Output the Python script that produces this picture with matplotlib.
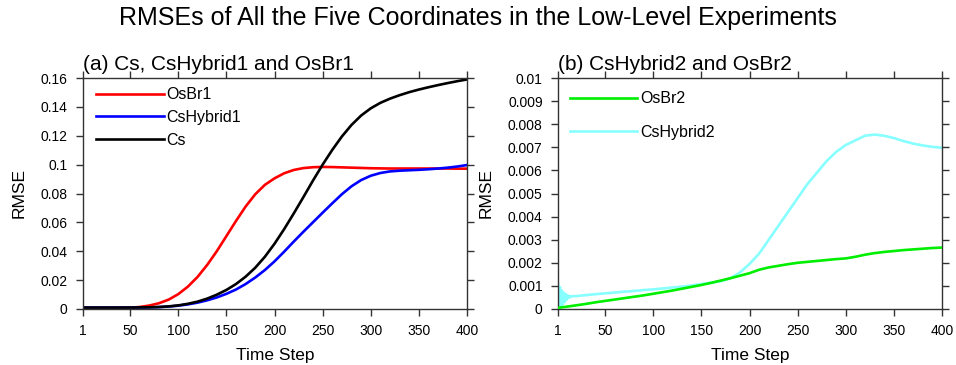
import matplotlib
matplotlib.use("Agg")
import matplotlib.pyplot as plt
from matplotlib.ticker import FuncFormatter

plt.rcParams['font.family'] = ['Liberation Sans', 'DejaVu Sans']

# ---------------- data ----------------
steps_a = [1, 10, 20, 30, 40, 50, 60, 70, 80, 90, 100, 110, 120, 130, 140, 150, 160, 170, 180, 190,
           200, 210, 220, 230, 240, 250, 260, 270, 280, 290, 300, 310, 320, 330, 340, 350, 360, 370,
           380, 390, 400]

osbr1 = [0.0003, 0.0003, 0.0004, 0.0005, 0.0007, 0.0009, 0.0014, 0.0024, 0.0040, 0.0065, 0.0103,
         0.0155, 0.0222, 0.0305, 0.0400, 0.0505, 0.0610, 0.0710, 0.0795, 0.0860, 0.0905, 0.0940,
         0.0963, 0.0976, 0.0982, 0.0984, 0.0983, 0.0981, 0.0979, 0.0977, 0.0975, 0.0974, 0.0973,
         0.0973, 0.0973, 0.0973, 0.0973, 0.0973, 0.0973, 0.0972, 0.0972]

cshybrid1 = [0.001, 0.001, 0.001, 0.001, 0.001, 0.001, 0.001, 0.0011, 0.0013, 0.0017, 0.0023,
             0.0032, 0.0044, 0.006, 0.008, 0.0105, 0.0135, 0.0173, 0.0218, 0.0270, 0.0330, 0.0397,
             0.0467, 0.0535, 0.0601, 0.0667, 0.0732, 0.0795, 0.0850, 0.0893, 0.0923, 0.0942, 0.0953,
             0.0958, 0.0961, 0.0964, 0.0968, 0.0973, 0.0979, 0.0987, 0.0997]

cs = [0.001, 0.001, 0.001, 0.001, 0.001, 0.001, 0.0011, 0.0012, 0.0014, 0.0018, 0.0025, 0.0036,
      0.0051, 0.0072, 0.0099, 0.0132, 0.0173, 0.0224, 0.0286, 0.0362, 0.0452, 0.0553, 0.0662,
      0.0775, 0.0890, 0.1000, 0.1102, 0.1195, 0.1275, 0.1340, 0.1390, 0.1428, 0.1457, 0.1481,
      0.1502, 0.1520, 0.1536, 0.1551, 0.1565, 0.1578, 0.1590]

steps_b = [1, 10, 20, 30, 40, 50, 60, 70, 80, 90, 100, 110, 120, 130, 140, 150, 160, 170, 180, 190,
           200, 210, 220, 230, 240, 250, 260, 270, 280, 290, 300, 310, 320, 330, 340, 350, 360, 370,
           380, 390, 400]

osbr2 = [0.00005, 0.0001, 0.00016, 0.00022, 0.00029, 0.00035, 0.00041, 0.00047, 0.00053, 0.00059,
         0.00066, 0.00073, 0.0008, 0.00088, 0.00096, 0.00104, 0.00113, 0.00123, 0.00133, 0.00144,
         0.00155, 0.00170, 0.00180, 0.00187, 0.00194, 0.00200, 0.00204, 0.00208, 0.00212, 0.00216,
         0.00219, 0.00226, 0.00235, 0.00242, 0.00247, 0.00251, 0.00255, 0.00258, 0.00261, 0.00264,
         0.00266]

steps_c = [1, 2, 3, 4, 5, 6, 7, 8, 9, 10, 11, 12, 13, 14, 15, 20, 30, 40, 50, 60, 70, 80, 90, 100,
           110, 120, 130, 140, 150, 160, 170, 180, 190, 200, 210, 220, 230, 240, 250, 260, 270, 280,
           290, 300, 310, 320, 330, 340, 350, 360, 370, 380, 390, 400]

cshybrid2 = [0.0011, 0.0000, 0.00095, 0.0001, 0.0008, 0.0002, 0.0007, 0.0003, 0.00065, 0.0004,
             0.0006, 0.00048, 0.00056, 0.00052, 0.00055, 0.00056, 0.0006, 0.00064, 0.00068,
             0.00071, 0.00075, 0.00078, 0.00082, 0.00085, 0.00089, 0.00093, 0.00097, 0.00102,
             0.00108, 0.00114, 0.0012, 0.00133, 0.00158, 0.00195, 0.0024, 0.0030, 0.0036, 0.0042,
             0.0048, 0.0054, 0.0059, 0.0064, 0.0068, 0.0071, 0.0073, 0.0075, 0.00755, 0.0075,
             0.0074, 0.00727, 0.00716, 0.00708, 0.00702, 0.00698]

xticks = [1, 50, 100, 150, 200, 250, 300, 350, 400]
yticks_a = [0, 0.02, 0.04, 0.06, 0.08, 0.1, 0.12, 0.14, 0.16]
yticks_b = [0, 0.001, 0.002, 0.003, 0.004, 0.005, 0.006, 0.007, 0.008, 0.009, 0.01]

# ---------------- figure ----------------
fig = plt.figure(figsize=(9.56, 3.65), dpi=100)
axA = fig.add_axes([83 / 956, 56 / 365, 384 / 956, 231 / 365])
axB = fig.add_axes([558 / 956, 56 / 365, 384 / 956, 231 / 365])

lw = 1.9
axA.plot(steps_a, osbr1, color='#ff0000', lw=lw, label='OsBr1', solid_joinstyle='round')
axA.plot(steps_a, cshybrid1, color='#0000ff', lw=lw, label='CsHybrid1', solid_joinstyle='round')
axA.plot(steps_a, cs, color='#000000', lw=lw, label='Cs', solid_joinstyle='round')

axB.plot(steps_b, osbr2, color='#00ee00', lw=lw, label='OsBr2', zorder=3, solid_joinstyle='round')
axB.plot(steps_c, cshybrid2, color='#88ffff', lw=lw, label='CsHybrid2', zorder=2,
         solid_joinstyle='round')

def fmt(v, pos):
    return '%g' % v

for ax, yt, ttl in [(axA, yticks_a, '(a) Cs, CsHybrid1 and OsBr1'),
                    (axB, yticks_b, '(b) CsHybrid2 and OsBr2')]:
    ax.set_xlim(1, 400)
    ax.set_ylim(yt[0], yt[-1])
    ax.set_xticks(xticks)
    ax.set_yticks(yt)
    ax.yaxis.set_major_formatter(FuncFormatter(fmt))
    ax.tick_params(direction='out', length=5, width=1, top=True, right=True,
                   labelsize=10, pad=6, color='#333333')
    for s in ax.spines.values():
        s.set_linewidth(1.0)
        s.set_color('#333333')
    ax.set_xlabel('Time Step', fontsize=12.5, labelpad=7)
    ax.set_ylabel('RMSE', fontsize=12.5, labelpad=10)
    ax.set_title(ttl, loc='left', fontsize=15, pad=6)

axA.legend(loc='upper left', bbox_to_anchor=(0.035, 0.96), frameon=False, fontsize=11.5,
           handlelength=4.25, handletextpad=0.15, labelspacing=0.48, borderpad=0, borderaxespad=0)
axB.legend(loc='upper left', bbox_to_anchor=(0.03, 0.943), frameon=False, fontsize=11.5,
           handlelength=4.25, handletextpad=0.15, labelspacing=1.16, borderpad=0, borderaxespad=0)

fig.text(0.5, 1 - 18 / 365, 'RMSEs of All the Five Coordinates in the Low-Level Experiments',
         fontsize=18, ha='center', va='center')

fig.savefig('out.png', dpi=100)
